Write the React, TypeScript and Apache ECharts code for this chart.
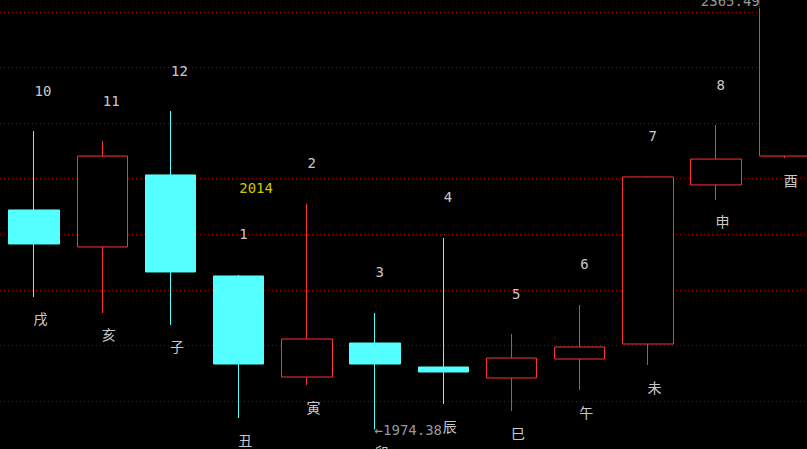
import React, { useEffect, useRef } from "react";
import * as echarts from "echarts";

const categories = ["戌", "亥", "子", "丑", "寅", "卯", "辰", "巳", "午", "未", "申", "酉"];
const topLabels = ["10", "11", "12", "1", "2", "3", "4", "5", "6", "7", "8", ""];
const opens = [2171.9, 2138.6, 2203.4, 2112.5, 2021.6, 2052.2, 2030.6, 2020.7, 2037.8, 2051.3, 2194.4, 2220.4];
const closes = [2141.3, 2220.4, 2116.1, 2033.3, 2055.8, 2033.3, 2026.1, 2038.7, 2048.6, 2201.6, 2217.7, 2363.5];
const lows = [2093.6, 2079.2, 2068.4, 1984.7, 2014.4, 1974.38, 1997.3, 1991.0, 2009.9, 2032.4, 2180.9, 2218.6];
const highs = [2242.9, 2233.9, 2260.9, 2113.4, 2177.3, 2079.2, 2146.7, 2060.3, 2086.4, 2202.0, 2248.3, 2365.49];
const yearLabel = "2014";
const yearIndex = 3;
const maxIndex = 11;
const minIndex = 5;

const MONO = '"DejaVu Sans Mono", "Liberation Mono", monospace';
const CJK = '"Noto Sans CJK SC", "Noto Sans", sans-serif';

export default function App() {
  const ref = useRef<HTMLDivElement>(null);
  useEffect(() => {
    document.body.style.margin = "0";
    document.body.style.background = "#000";
    document.body.style.overflow = "hidden";
    const chart = echarts.init(ref.current!, null, { renderer: "svg" });
    const candleData = categories.map((_, i) => [opens[i], closes[i], lows[i], highs[i]]);
    const hidden = { color: "rgba(0,0,0,0)" };
    chart.setOption({
      animation: false,
      backgroundColor: "#000",
      grid: { left: 0, top: 12, width: 818.4, height: 444.6, containLabel: false },
      xAxis: {
        type: "category",
        data: categories,
        boundaryGap: true,
        axisLine: { show: false },
        axisTick: { show: false },
        axisLabel: { show: false },
        splitLine: { show: false },
      },
      yAxis: {
        type: "value",
        min: 1950,
        max: 2350,
        interval: 50,
        axisLine: { show: false },
        axisTick: { show: false },
        axisLabel: { show: false },
        splitLine: { show: true, lineStyle: { color: "#9a0000", width: 1, type: [1, 3] } },
      },
      series: [
        {
          type: "candlestick",
          data: candleData,
          barWidth: 51,
          clip: false,
          itemStyle: {
            color: "#000000",
            color0: "#54ffff",
            borderColor: "#ff3232",
            borderColor0: "#54ffff",
            borderWidth: 1,
          },
          z: 2,
        },
        {
          type: "scatter",
          symbolSize: 1,
          itemStyle: hidden,
          silent: true,
          clip: false,
          z: 5,
          data: categories
            .map((_, i) => ({ value: [i, highs[i]], name: topLabels[i] }))
            .filter((d) => d.name !== ""),
          label: {
            show: true,
            position: [0, 0],
            align: "left",
            verticalAlign: "middle",
            offset: [1, -40],
            formatter: (p: any) => p.name,
            color: "#ffffff",
            fontFamily: MONO,
            fontSize: 14,
          },
        },
        {
          type: "scatter",
          symbolSize: 1,
          itemStyle: hidden,
          silent: true,
          clip: false,
          z: 5,
          data: categories.map((c, i) => ({ value: [i, lows[i]], name: c })),
          label: {
            show: true,
            position: [0, 0],
            align: "left",
            verticalAlign: "middle",
            offset: [0, 22],
            formatter: (p: any) => p.name,
            color: "#ffffff",
            fontFamily: CJK,
            fontSize: 14,
          },
        },
        {
          type: "scatter",
          symbolSize: 1,
          itemStyle: hidden,
          silent: true,
          clip: false,
          z: 6,
          data: [
            {
              value: [yearIndex, highs[yearIndex]],
              label: { show: true, formatter: yearLabel, color: "#ffff00", offset: [1, -86], align: "left" },
            },
            {
              value: [maxIndex, highs[maxIndex]],
              label: {
                show: true,
                formatter: highs[maxIndex].toFixed(2),
                color: "#c0c0c0",
                offset: [-24, 7],
                align: "right",
                backgroundColor: "#000",
              },
            },
            {
              value: [minIndex, lows[minIndex]],
              label: {
                show: true,
                formatter: "←" + lows[minIndex].toFixed(2),
                color: "#c0c0c0",
                offset: [0, 1],
                align: "left",
              },
            },
          ],
          label: {
            show: true,
            position: [0, 0],
            verticalAlign: "middle",
            fontFamily: MONO,
            fontSize: 14,
          },
        },
      ],
    });
    return () => chart.dispose();
  }, []);
  return (
    <div style={{ width: 807, height: 449, overflow: "hidden", background: "#000" }}>
      <div ref={ref} style={{ width: 830, height: 500, background: "#000" }} />
    </div>
  );
}
